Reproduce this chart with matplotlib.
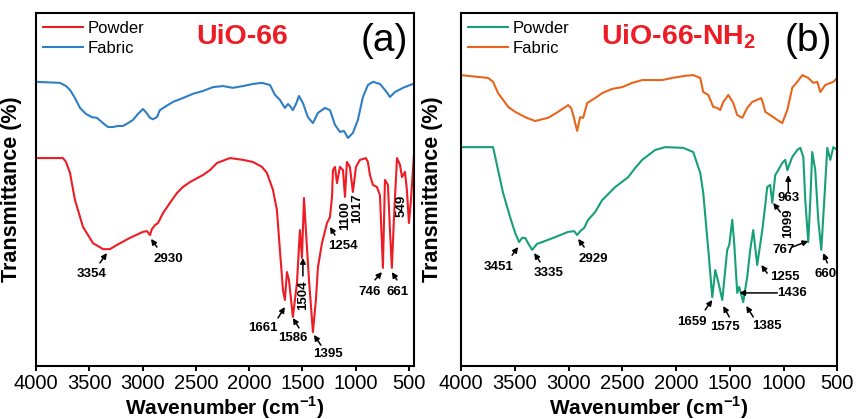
""" FTIR spectra of UiO-66 and UiO-66-NH2, powder vs fabric """

import matplotlib
matplotlib.use('Agg')
import matplotlib.pyplot as plt

plt.rcParams['font.family'] = ['Liberation Sans', 'DejaVu Sans']
plt.rcParams['mathtext.fontset'] = 'custom'
plt.rcParams['mathtext.rm'] = 'Liberation Sans'
plt.rcParams['mathtext.bf'] = 'Liberation Sans:bold'

# ---- panel (a) UiO-66 ----
a_fabric_wn = [4000, 3775, 3718, 3681, 3634, 3587, 3531, 3475, 3428, 3371, 3324, 3277,
               3231, 3184, 3137, 3090, 3043, 2996, 2968, 2930, 2902, 2865, 2837, 2780,
               2715, 2621, 2527, 2433, 2339, 2245, 2152, 2058, 1964, 1879, 1804, 1757,
               1711, 1664, 1635, 1617, 1589, 1560, 1532, 1495, 1448, 1401, 1354, 1316,
               1288, 1241, 1194, 1147, 1110, 1072, 1026, 979, 932, 885, 838, 772, 725,
               697, 678, 631, 556, 463]
a_fabric_t = [80.5, 80.2, 79.3, 78.2, 75.9, 73.1, 71.4, 70.5, 70.3, 68.8, 67.7, 67.7,
              68.0, 68.0, 68.8, 69.7, 71.4, 72.8, 71.9, 70.3, 69.9, 70.5, 72.5, 73.6,
              74.8, 75.9, 77.1, 77.9, 79.0, 79.3, 78.8, 79.3, 79.9, 80.2, 79.6, 76.8,
              75.4, 73.1, 74.2, 73.7, 72.5, 74.2, 76.5, 74.5, 70.5, 68.8, 71.7, 72.5,
              73.1, 72.5, 68.3, 66.3, 66.6, 64.6, 66.0, 69.7, 76.2, 79.6, 80.5, 79.9, 78.2,
              77.1, 76.2, 77.6, 78.8, 79.9]

a_powder_wn = [4000, 3747, 3718, 3681, 3634, 3559, 3465, 3371, 3306, 3240, 3118, 2996,
               2958, 2930, 2912, 2883, 2855, 2808, 2743, 2677, 2621, 2555, 2433, 2367,
               2302, 2180, 2058, 1964, 1879, 1833, 1776, 1739, 1711, 1682, 1664, 1645,
               1626, 1589, 1551, 1523, 1504, 1485, 1467, 1438, 1401, 1373, 1354, 1316,
               1269, 1241, 1222, 1213, 1194, 1175, 1147, 1119, 1100, 1082, 1054, 1026,
               997, 960, 932, 904, 885, 866, 838, 800, 772, 744, 725, 697, 678, 660,
               641, 612, 584, 565, 537, 519, 500, 481, 453]
a_powder_t = [58.9, 58.9, 57.8, 54.7, 47.0, 39.4, 34.8, 33.1, 33.1, 34.3, 36.3, 38.0,
              38.2, 37.1, 38.8, 39.9, 40.5, 43.3, 46.2, 49.0, 50.7, 52.1, 54.1, 55.5,
              57.5, 58.9, 58.4, 57.8, 56.4, 54.7, 49.9, 44.2, 32.9, 21.5, 18.7, 26.6,
              24.4, 13.9, 23.5, 38.5, 30.6, 47.6, 38.5, 24.4, 9.6, 18.7, 28.0, 34.8,
              40.5, 42.2, 47.9, 55.5, 56.4, 51.8, 56.4, 55.5, 47.9, 57.8, 56.4, 49.3,
              56.4, 58.4, 58.6, 58.9, 57.8, 54.1, 51.3, 50.7, 48.4, 27.8, 52.7, 51.3,
              38.5, 27.8, 41.4, 58.9, 57.0, 53.5, 55.0, 49.9, 40.5, 47.0, 59.8]

# ---- panel (b) UiO-66-NH2 ----
b_fabric_wn = [4000, 3749, 3702, 3656, 3609, 3562, 3497, 3404, 3311, 3190, 3097, 3004,
               2976, 2957, 2920, 2892, 2864, 2827, 2753, 2687, 2594, 2501, 2408, 2315,
               2222, 2129, 2036, 1915, 1840, 1775, 1747, 1700, 1654, 1617, 1589, 1561,
               1533, 1514, 1468, 1431, 1384, 1338, 1291, 1245, 1207, 1189, 1170, 1124,
               1058, 1012, 965, 919, 872, 826, 770, 723, 686, 658, 612, 537, 500]
b_fabric_t = [82.4, 81.6, 80.5, 77.3, 75.4, 73.4, 72.0, 70.5, 69.4, 70.3, 72.0, 73.9,
              73.1, 71.1, 66.6, 70.5, 70.3, 74.5, 75.9, 77.3, 78.5, 79.0, 80.2, 81.0,
              81.0, 81.0, 81.6, 82.2, 82.4, 81.6, 77.6, 76.8, 73.4, 73.1, 72.5, 74.8,
              75.9, 76.8, 74.5, 71.1, 70.3, 73.1, 74.8, 75.4, 75.9, 74.2, 72.0, 71.1,
              69.7, 68.8, 72.5, 78.8, 80.5, 82.4, 81.6, 80.2, 80.5, 77.6, 79.6, 80.5, 81.6]

b_powder_wn = [4000, 3702, 3656, 3609, 3544, 3497, 3460, 3432, 3404, 3367, 3339, 3293,
               3246, 3125, 3004, 2948, 2920, 2892, 2855, 2818, 2753, 2687, 2566, 2445,
               2380, 2315, 2194, 2101, 1933, 1840, 1775, 1747, 1700, 1663, 1635, 1607,
               1570, 1524, 1505, 1477, 1459, 1431, 1412, 1375, 1338, 1310, 1282, 1245,
               1198, 1170, 1152, 1124, 1105, 1077, 1049, 1012, 984, 965, 919, 872, 844,
               816, 798, 770, 751, 733, 705, 677, 649, 621, 593, 565, 537, 500]
b_powder_t = [62.0, 62.0, 55.5, 49.0, 42.2, 37.7, 35.1, 36.3, 36.3, 34.3, 32.9, 34.6,
              35.1, 36.5, 38.0, 38.2, 37.1, 38.2, 39.1, 41.4, 43.6, 47.0, 50.7, 53.5,
              56.1, 58.4, 61.2, 62.0, 61.8, 60.6, 54.7, 49.0, 32.9, 19.5, 27.2, 23.8,
              18.7, 32.9, 34.3, 41.4, 34.8, 20.7, 22.4, 18.1, 25.2, 32.9, 38.5, 28.6,
              38.5, 45.6, 50.7, 51.3, 46.2, 54.1, 55.5, 57.5, 58.4, 55.5, 59.2, 61.2, 61.8,
              59.2, 47.0, 35.1, 47.0, 60.6, 55.5, 41.4, 32.9, 47.0, 61.8, 58.4, 62.0, 61.2]

# peak labels: (text, text pos, arrow tail, arrow head, rotation)
a_peaks = [
    ('3354', (3475, 26.1), (3400, 29.2), (3334, 32.0), 0),
    ('2930', (2761, 30.3), (2865, 33.7), (2921, 36.0), 0),
    ('1661', (1870, 10.8), (1729, 13.6), (1664, 16.7), 0),
    ('1586', (1589, 7.9), (1532, 10.8), (1589, 13.6), 0),
    ('1395', (1260, 3.4), (1326, 5.9), (1392, 8.8), 0),
    ('1504', (1495, 20.0), (1495, 25.5), (1495, 30.6), 90),
    ('1254', (1119, 34.0), (1194, 37.1), (1241, 39.4), 0),
    ('1100', (1101, 42.5), None, None, 90),
    ('1017', (988, 44.8), None, None, 90),
    ('549', (566, 45.5), None, None, 90),
    ('746', (866, 21.0), (819, 24.4), (753, 26.6), 0),
    ('661', (603, 21.0), (613, 24.4), (660, 26.6), 0),
]
b_peaks = [
    ('3451', (3656, 28.0), (3525, 31.4), (3469, 33.7), 0),
    ('3335', (3190, 26.3), (3265, 29.5), (3320, 32.0), 0),
    ('2929', (2771, 30.3), (2855, 33.7), (2911, 36.0), 0),
    ('1659', (1850, 12.5), (1729, 15.9), (1663, 18.7), 0),
    ('1575', (1542, 11.0), (1505, 13.9), (1561, 17.0), 0),
    ('1385', (1151, 11.3), (1282, 13.9), (1347, 17.0), 0),
    ('1436', (919, 20.7), (1058, 20.7), (1412, 20.7), 0),
    ('1255', (984, 25.2), (1152, 26.3), (1207, 28.6), 0),
    ('1099', (956, 40.5), (1030, 43.6), (1096, 46.2), 90),
    ('963', (956, 47.6), (956, 49.3), (956, 54.1), 0),
    ('767', (1003, 32.9), (919, 33.7), (770, 35.4), 0),
    ('660', (612, 26.1), (593, 29.2), (630, 32.0), 0),
]

xticks = [4000, 3500, 3000, 2500, 2000, 1500, 1000, 500]


def draw_panel(ax, xlim, fabric, powder, c_fab, c_pow, title, title_x, tag, peaks,
               ylab_x):
    ax.plot(powder[0], powder[1], color=c_pow, lw=1.5, label='Powder')
    ax.plot(fabric[0], fabric[1], color=c_fab, lw=1.5, label='Fabric')
    ax.set_xlim(*xlim)
    ax.set_ylim(0, 100)
    ax.set_xticks(xticks)
    ax.set_yticks([])
    ax.tick_params(axis='x', labelsize=14.5, length=3.5, width=1.4, pad=2)
    for s in ax.spines.values():
        s.set_linewidth(1.5)
    ax.set_xlabel(r'Wavenumber (cm$^{\mathbf{-1}}$)', fontsize=15, fontweight='bold',
                  labelpad=1)
    ax.set_ylabel('Transmittance (%)', fontsize=15.5, fontweight='bold')
    ax.yaxis.set_label_coords(ylab_x, 0.5)
    ax.legend(loc='upper left', bbox_to_anchor=(0.018, 0.978), frameon=False,
              fontsize=12, handlelength=2.4, handletextpad=0.3, labelspacing=0.3,
              borderpad=0, borderaxespad=0)
    ax.text(title_x, 0.932, title, transform=ax.transAxes, color='#ee1c25',
            fontsize=20.5, fontweight='bold', ha='center', va='center')
    ax.text(0.922, 0.922, tag, transform=ax.transAxes, fontsize=28,
            ha='center', va='center')
    for lab, tpos, tail, head, rot in peaks:
        ax.text(tpos[0], tpos[1], lab, fontsize=9.5, fontweight='bold',
                ha='center', va='center', rotation=rot)
        if tail is not None:
            ax.annotate('', xy=head, xytext=tail,
                        arrowprops=dict(arrowstyle='-|>', color='k', lw=1.1,
                                        mutation_scale=8, shrinkA=0, shrinkB=0))


def main():
    fig = plt.figure(figsize=(8.57, 4.19), dpi=100)
    ax1 = fig.add_axes([0.042, 0.1265, 0.441, 0.8425])
    ax2 = fig.add_axes([0.538, 0.1265, 0.439, 0.8425])

    draw_panel(ax1, (4000, 453), (a_fabric_wn, a_fabric_t), (a_powder_wn, a_powder_t),
               '#2f7fc4', '#ee1c25', 'UiO-66', 0.545, '(a)', a_peaks, -0.037)
    draw_panel(ax2, (4000, 500), (b_fabric_wn, b_fabric_t), (b_powder_wn, b_powder_t),
               '#e8661c', '#17a078', r'UiO-66-NH$_\mathbf{2}$', 0.577, '(b)', b_peaks,
               -0.048)

    fig.savefig('out.png', dpi=100)


if __name__ == '__main__':
    main()
